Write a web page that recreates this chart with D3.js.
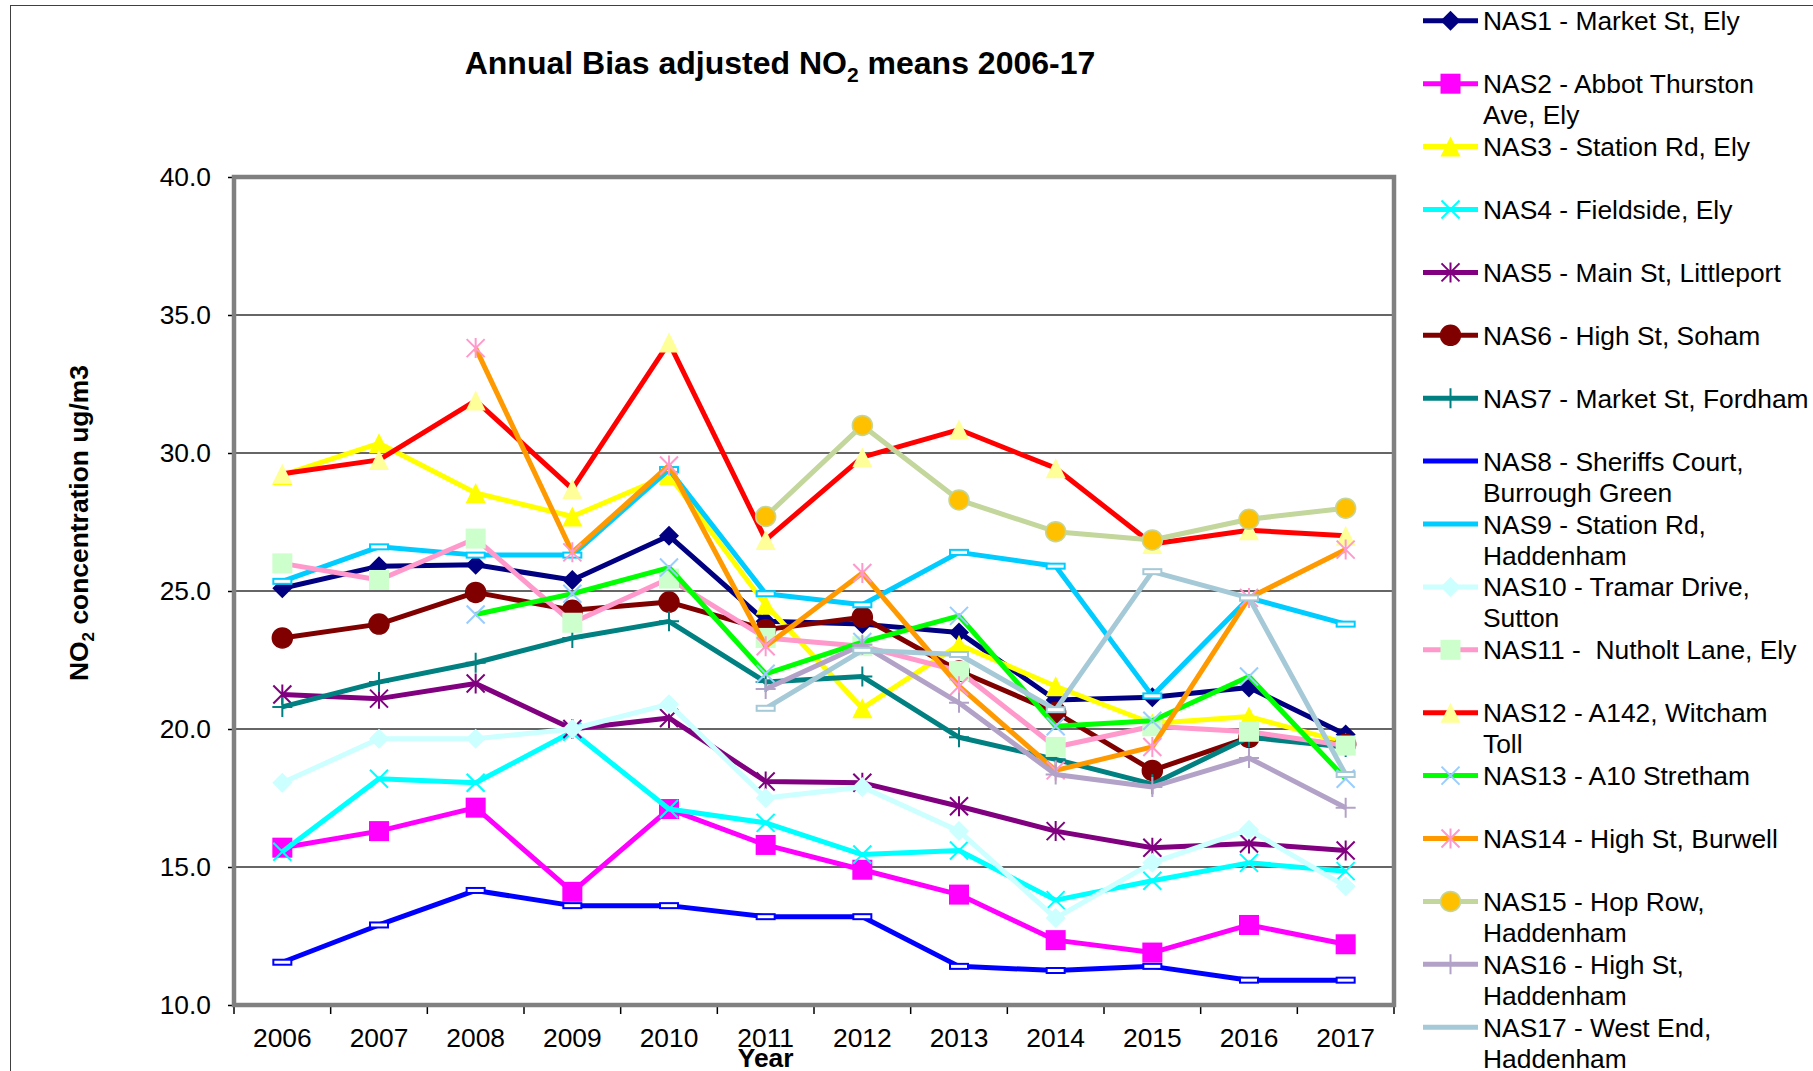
<!DOCTYPE html>
<html>
<head>
<meta charset="utf-8">
<script src="https://cdn.jsdelivr.net/npm/d3@7"></script>
<style>
  body { margin: 0; background: #fff; }
  text { font-family: "Liberation Sans", Arial, sans-serif; }
</style>
</head>
<body>
<div id="vis"></div>
<script>
// values
let years = ["2006", "2007", "2008", "2009", "2010", "2011", "2012", "2013", "2014", "2015", "2016", "2017"];
let yTicks = [10, 15, 20, 25, 30, 35, 40];

let nas1  = [25.1, 25.9, 25.95, 25.4, 27.0, 23.9, 23.8, 23.5, 21.05, 21.15, 21.5, 19.8];
let nas2  = [15.7, 16.3, 17.15, 14.1, 17.1, 15.8, 14.9, 14.0, 12.35, 11.9, 12.9, 12.2];
let nas3  = [29.2, 30.35, 28.55, 27.7, 29.2, 24.5, 20.75, 23.05, 21.55, 20.2, 20.45, 19.5];
let nas4  = [15.55, 18.2, 18.05, 19.9, 17.1, 16.6, 15.45, 15.6, 13.8, 14.5, 15.15, 14.85];
let nas5  = [21.25, 21.1, 21.65, 20.0, 20.4, 18.1, 18.05, 17.2, 16.3, 15.7, 15.85, 15.6];
let nas6  = [23.3, 23.8, 24.95, 24.3, 24.6, 23.6, 24.05, 22.1, 20.6, 18.5, 19.7, 19.45];
let nas7  = [20.8, 21.7, 22.4, 23.3, 23.9, 21.7, 21.9, 19.7, 18.9, 18.0, 19.7, 19.35];
let nas8  = [11.55, 12.9, 14.15, 13.6, 13.6, 13.2, 13.2, 11.4, 11.25, 11.4, 10.9, 10.9];
let nas9  = [25.35, 26.6, 26.3, 26.3, 29.4, 24.9, 24.5, 26.4, 25.9, 21.2, 24.75, 23.8];
let nas10 = [18.05, 19.65, 19.65, 20.0, 20.9, 17.5, 17.9, 16.3, 13.15, 15.15, 16.35, 14.3];
let nas11 = [26.0, 25.4, 26.9, 23.85, 25.45, 23.3, 23.0, 22.1, 19.35, 20.1, 19.9, 19.4];
let nas12 = [29.25, 29.75, 31.9, 28.7, 34.0, 26.85, 29.85, 30.85, 29.45, 26.7, 27.2, 27.0];
let nas13 = [null, null, 24.15, 24.9, 25.85, 22.0, 23.15, 24.1, 20.1, 20.3, 21.9, 18.2];
let nas14 = [null, null, 33.8, 26.4, 29.55, 23.0, 25.65, 21.55, 18.5, 19.35, 24.75, 26.5];
let nas15 = [null, null, null, null, null, 27.7, 31.0, 28.3, 27.15, 26.85, 27.6, 28.0];
let nas16 = [null, null, null, null, null, 21.45, 23.05, 20.95, 18.35, 17.9, 18.95, 17.15];
let nas17 = [null, null, null, null, null, 20.75, 22.85, 22.7, 20.7, 25.7, 24.75, 18.35];

let seriesValues = [nas1, nas2, nas3, nas4, nas5, nas6, nas7, nas8, nas9,
                    nas10, nas11, nas12, nas13, nas14, nas15, nas16, nas17];

let seriesNames = [
  ["NAS1 - Market St, Ely"],
  ["NAS2 - Abbot Thurston", "Ave, Ely"],
  ["NAS3 - Station Rd, Ely"],
  ["NAS4 - Fieldside, Ely"],
  ["NAS5 - Main St, Littleport"],
  ["NAS6 - High St, Soham"],
  ["NAS7 - Market St, Fordham"],
  ["NAS8 - Sheriffs Court,", "Burrough Green"],
  ["NAS9 - Station Rd,", "Haddenham"],
  ["NAS10 - Tramar Drive,", "Sutton"],
  ["NAS11 -  Nutholt Lane, Ely"],
  ["NAS12 - A142, Witcham", "Toll"],
  ["NAS13 - A10 Stretham"],
  ["NAS14 - High St, Burwell"],
  ["NAS15 - Hop Row,", "Haddenham"],
  ["NAS16 - High St,", "Haddenham"],
  ["NAS17 - West End,", "Haddenham"]
];

// styles: line colour, marker shape, marker fill
let lineColors = ["#000080", "#ff00ff", "#ffff00", "#00ffff", "#800080", "#800000", "#008080",
                  "#0000ff", "#00ccff", "#ccffff", "#ff99cc", "#ff0000", "#00ff00", "#ff9900",
                  "#c3d69b", "#b3a2c7", "#a5c9d7"];
let markerShapes = ["diamond", "square", "triangle", "x", "star", "circle", "plus",
                    "dash", "dash", "diamond", "square", "triangle", "x", "star",
                    "circle", "plus", "dash"];
let markerFills = ["#000080", "#ff00ff", "#ffff00", "#00ffff", "#800080", "#800000", "#008080",
                   "#ffffff", "#ffffff", "#ccffff", "#ccffcc", "#ffff99", "#99ccff", "#ff99cc",
                   "#ffc000", "#b3a2c7", "#ffffff"];

let width = 1813, height = 1071;
let plot = {left: 234, top: 177, right: 1394, bottom: 1005};
let fontSize = 26.4;

let svg = d3.select("#vis").append("svg")
  .attr("width", width)
  .attr("height", height);

// chart area border (cut off on the right and bottom)
svg.append("rect")
  .attr("x", 10.5).attr("y", 5.5)
  .attr("width", width + 20).attr("height", height + 20)
  .attr("fill", "none")
  .attr("stroke", "#404040")
  .attr("stroke-width", 1);

let xScale = d3.scaleBand()
  .domain(years)
  .range([plot.left, plot.right]);

let yScale = d3.scaleLinear()
  .domain([10, 40])
  .range([plot.bottom, plot.top]);

// gridlines
svg.append("g")
  .selectAll("line")
  .data(yTicks.filter(d => d > 10 && d < 40))
  .join("line")
  .attr("x1", plot.left).attr("x2", plot.right)
  .attr("y1", d => yScale(d)).attr("y2", d => yScale(d))
  .attr("stroke", "#333")
  .attr("stroke-width", 1.3);

// y axis
svg.append("g")
  .attr("transform", "translate(" + plot.left + ",0)")
  .call(d3.axisLeft(yScale).tickValues(yTicks).tickFormat(d3.format(".1f"))
        .tickSize(6).tickPadding(17).tickSizeOuter(0))
  .call(g => g.select(".domain").remove())
  .call(g => g.selectAll("line").attr("stroke", "#000").attr("stroke-width", 1.5))
  .call(g => g.selectAll("text").attr("font-size", fontSize).attr("fill", "#000")
        .attr("font-family", "'Liberation Sans', Arial, sans-serif"));

// x axis labels
svg.append("g")
  .attr("transform", "translate(0," + plot.bottom + ")")
  .call(d3.axisBottom(xScale).tickSize(0).tickPadding(23))
  .call(g => g.select(".domain").remove())
  .call(g => g.selectAll("text").attr("font-size", fontSize).attr("fill", "#000")
        .attr("font-family", "'Liberation Sans', Arial, sans-serif"));

// x ticks sit between categories
let boundaries = years.map(d => xScale(d)).concat([xScale(years[years.length - 1]) + xScale.step()]);
svg.append("g")
  .selectAll("line")
  .data(boundaries)
  .join("line")
  .attr("x1", d => d).attr("x2", d => d)
  .attr("y1", plot.bottom).attr("y2", plot.bottom + 9)
  .attr("stroke", "#000")
  .attr("stroke-width", 1.5);

// plot area border
svg.append("rect")
  .attr("x", plot.left).attr("y", plot.top)
  .attr("width", plot.right - plot.left).attr("height", plot.bottom - plot.top)
  .attr("fill", "none")
  .attr("stroke", "#808080")
  .attr("stroke-width", 4.5);

function drawMarker(g, shape, x, y, fill, stroke) {
  let s = 10;
  if(shape == "diamond") {
    g.append("path")
      .attr("d", `M${x},${y - s}L${x + s},${y}L${x},${y + s}L${x - s},${y}Z`)
      .attr("fill", fill);
  } else if(shape == "square") {
    g.append("rect")
      .attr("x", x - s).attr("y", y - s).attr("width", 2 * s).attr("height", 2 * s)
      .attr("fill", fill);
  } else if(shape == "triangle") {
    g.append("path")
      .attr("d", `M${x},${y - s}L${x + s},${y + s}L${x - s},${y + s}Z`)
      .attr("fill", fill);
  } else if(shape == "circle") {
    g.append("circle")
      .attr("cx", x).attr("cy", y).attr("r", s)
      .attr("fill", fill)
      .attr("stroke", stroke)
      .attr("stroke-width", 1.5);
  } else if(shape == "x" || shape == "star") {
    let k = 9;
    let d = `M${x - k},${y - k}L${x + k},${y + k}M${x - k},${y + k}L${x + k},${y - k}`;
    if(shape == "star") d += `M${x},${y - s}L${x},${y + s}`;
    g.append("path")
      .attr("d", d)
      .attr("fill", "none")
      .attr("stroke", fill)
      .attr("stroke-width", 2);
  } else if(shape == "plus") {
    g.append("path")
      .attr("d", `M${x},${y - s}L${x},${y + s}M${x - s},${y}L${x + s},${y}`)
      .attr("fill", "none")
      .attr("stroke", fill)
      .attr("stroke-width", 2);
  } else if(shape == "dash") {
    g.append("rect")
      .attr("x", x - 9).attr("y", y - 2.5).attr("width", 18).attr("height", 5)
      .attr("fill", fill)
      .attr("stroke", stroke)
      .attr("stroke-width", 2);
  }
}

// series
let line = d3.line()
  .defined(d => d.v != null)
  .x(d => xScale(d.year) + xScale.bandwidth() / 2)
  .y(d => yScale(d.v));

let seriesGroup = svg.append("g");
seriesValues.forEach((values, i) => {
  let pts = values.map((v, j) => ({year: years[j], v: v}));
  let g = seriesGroup.append("g").attr("class", "nas" + (i + 1));
  g.append("path")
    .datum(pts)
    .attr("d", line)
    .attr("fill", "none")
    .attr("stroke", lineColors[i])
    .attr("stroke-width", 5)
    .attr("stroke-linejoin", "round");
  for(let p of pts) {
    if(p.v == null) continue;
    drawMarker(g, markerShapes[i], xScale(p.year) + xScale.bandwidth() / 2, yScale(p.v),
               markerFills[i], lineColors[i]);
  }
});

// title
let title = svg.append("text")
  .attr("x", 780).attr("y", 74)
  .attr("text-anchor", "middle")
  .attr("font-size", 32)
  .attr("font-weight", "bold");
title.append("tspan").text("Annual Bias adjusted NO");
title.append("tspan").text("2").attr("font-size", 21).attr("dy", 8);
title.append("tspan").text(" means 2006-17").attr("dy", -8);

// y axis title
let yTitle = svg.append("text")
  .attr("transform", "translate(88,523) rotate(-90)")
  .attr("text-anchor", "middle")
  .attr("font-size", fontSize)
  .attr("font-weight", "bold");
yTitle.append("tspan").text("NO");
yTitle.append("tspan").text("2").attr("font-size", 17).attr("dy", 6);
yTitle.append("tspan").text(" concentration ug/m3").attr("dy", -6);

// x axis title
svg.append("text")
  .attr("x", xScale("2011") + xScale.bandwidth() / 2).attr("y", 1067)
  .attr("text-anchor", "middle")
  .attr("font-size", fontSize)
  .attr("font-weight", "bold")
  .text("Year");

// legend
let legend = svg.append("g");
seriesNames.forEach((name, i) => {
  let cy = 20.8 + 62.9 * i;
  let g = legend.append("g");
  g.append("line")
    .attr("x1", 1423).attr("x2", 1478)
    .attr("y1", cy).attr("y2", cy)
    .attr("stroke", lineColors[i])
    .attr("stroke-width", 5);
  // the small dash markers do not show in the legend
  if(markerShapes[i] != "dash") {
    drawMarker(g, markerShapes[i], 1450.5, cy, markerFills[i], lineColors[i]);
  }
  let t = g.append("text")
    .attr("x", 1483).attr("y", cy + 9.5)
    .attr("font-size", fontSize)
    .attr("fill", "#000")
    .style("white-space", "pre");
  name.forEach((s, k) => {
    t.append("tspan").attr("x", 1483).attr("dy", k == 0 ? 0 : 31).text(s);
  });
});
</script>
</body>
</html>
